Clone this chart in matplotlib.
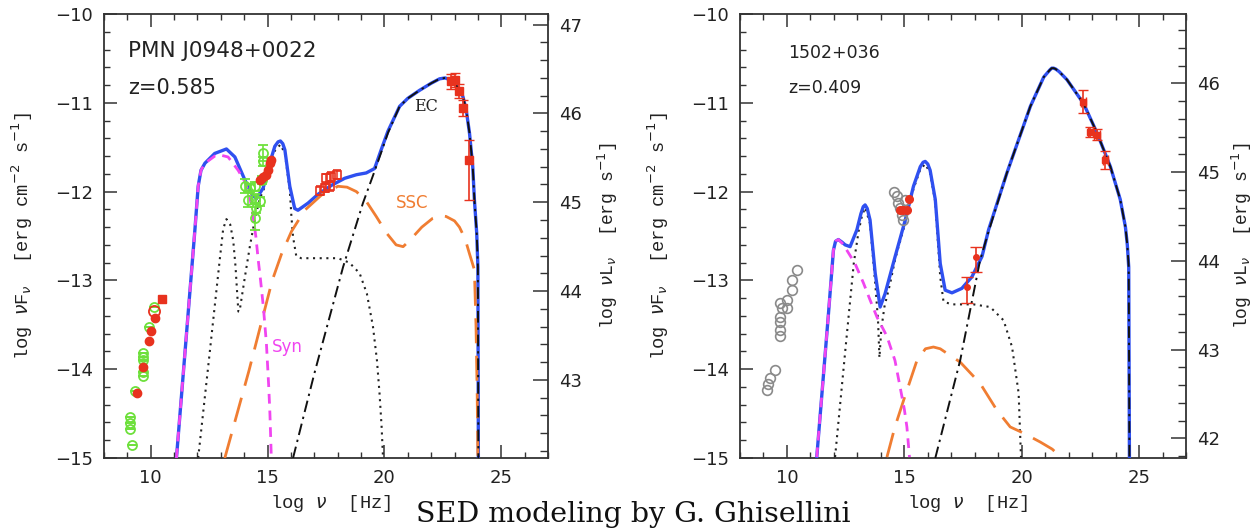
import matplotlib
matplotlib.use("Agg")
import matplotlib.pyplot as plt
from matplotlib.ticker import MultipleLocator

# ------------------------------------------------------------------
# PMN J0948+0022  (z = 0.585)
# ------------------------------------------------------------------
pmn_total_x = [11.10, 11.89, 12.03, 12.15, 12.32, 12.74, 13.24, 13.60, 14.03, 14.31,
               14.52, 14.81, 15.09, 15.31, 15.45, 15.55, 15.65, 15.74, 15.95, 16.16,
               16.30, 16.73, 17.16, 17.73, 18.30, 18.80, 19.22, 19.58, 19.86, 20.15,
               20.65, 21.00, 21.50, 22.00, 22.36, 22.60, 22.79, 23.07, 23.36, 23.50,
               23.64, 23.78, 23.85, 23.95, 24.00, 24.02]
pmn_total_y = [-15.00, -12.43, -11.94, -11.76, -11.68, -11.57, -11.52, -11.61, -11.87, -12.02,
               -12.08, -11.96, -11.68, -11.49, -11.44, -11.43, -11.46, -11.53, -11.94, -12.19,
               -12.21, -12.13, -12.03, -11.93, -11.85, -11.81, -11.79, -11.74, -11.53, -11.32,
               -11.04, -10.95, -10.86, -10.78, -10.73, -10.72, -10.74, -10.80, -10.93, -11.08,
               -11.34, -11.72, -12.09, -12.47, -12.85, -15.00]

pmn_syn_x = [11.10, 11.89, 12.03, 12.15, 12.32, 12.74, 13.00, 13.31, 13.74, 14.03,
             14.24, 14.38, 14.50, 14.60, 14.70, 14.82, 14.95, 15.05, 15.10, 15.16]
pmn_syn_y = [-15.00, -12.43, -11.94, -11.76, -11.68, -11.60, -11.59, -11.61, -11.76, -11.89,
             -12.06, -12.28, -12.51, -12.77, -13.00, -13.30, -13.71, -14.20, -14.50, -15.00]

pmn_ssc_x = [13.17, 14.20, 15.20, 15.60, 16.02, 16.59, 17.30, 18.01, 18.40, 18.80,
             19.20, 19.65, 20.10, 20.50, 20.80, 21.08, 21.60, 22.07, 22.40, 22.64,
             23.00, 23.21, 23.45, 23.64, 23.85, 23.92, 23.97, 24.00]
pmn_ssc_y = [-15.00, -14.02, -13.00, -12.70, -12.45, -12.21, -12.04, -11.94, -11.95, -12.00,
             -12.10, -12.28, -12.47, -12.60, -12.62, -12.55, -12.40, -12.30, -12.27, -12.28,
             -12.33, -12.40, -12.53, -12.70, -12.88, -13.52, -14.30, -15.00]

pmn_ec_x = [16.09, 17.00, 18.23, 19.08, 19.51, 19.86, 20.15, 20.65, 21.00, 21.50,
            22.00, 22.36, 22.60, 22.79, 23.07, 23.36, 23.50, 23.64, 23.78, 23.85,
            23.95, 24.00, 24.02]
pmn_ec_y = [-15.00, -14.05, -12.85, -12.13, -11.82, -11.56, -11.34, -11.04, -10.95, -10.86,
            -10.78, -10.73, -10.72, -10.74, -10.80, -10.93, -11.08, -11.34, -11.72, -12.09,
            -12.47, -12.85, -15.00]

pmn_thermal_x = [12.03, 12.50, 12.96, 13.10, 13.24, 13.40, 13.53, 13.63, 13.70, 13.75,
                 13.80, 13.90, 14.03, 14.24, 14.45, 14.67, 14.81, 15.09, 15.31, 15.55,
                 15.74, 15.95, 16.02, 16.09, 16.23, 16.44, 17.20, 18.01, 18.50, 18.94,
                 19.25, 19.51, 19.68, 19.79, 19.88, 19.94]
pmn_thermal_y = [-15.00, -13.87, -12.75, -12.42, -12.31, -12.37, -12.55, -12.85, -13.15, -13.35,
                 -13.35, -13.18, -12.96, -12.62, -12.32, -12.07, -12.00, -11.72, -11.54, -11.47,
                 -11.57, -11.98, -12.28, -12.51, -12.73, -12.75, -12.75, -12.75, -12.80, -12.92,
                 -13.15, -13.52, -13.90, -14.27, -14.65, -15.00]

# radio / IR / optical archival (open green) and simultaneous (filled red)
pmn_green_x = [9.18, 9.11, 9.11, 9.13, 9.32, 9.68, 9.68, 9.68, 9.68, 9.68, 9.94, 10.14,
               14.81, 14.81, 14.74, 14.03, 14.24, 14.45, 14.17, 14.45, 14.67, 14.52, 14.45]
pmn_green_y = [-14.85, -14.67, -14.61, -14.54, -14.25, -14.08, -14.03, -13.90, -13.86, -13.82,
               -13.52, -13.30,
               -11.57, -11.66, -11.87, -11.94, -11.96, -11.94, -12.09, -12.08, -12.11, -12.19, -12.30]
pmn_green_err = [0.0, 0.0, 0.0, 0.0, 0.0, 0.0, 0.0, 0.0, 0.0, 0.0, 0.0, 0.0,
                 0.09, 0.05, 0.05, 0.08, 0.05, 0.05, 0.08, 0.05, 0.05, 0.05, 0.13]

pmn_red_x = [9.40, 9.68, 9.92, 10.01, 10.17, 14.67, 14.81, 14.95, 15.02, 15.09, 15.16]
pmn_red_y = [-14.27, -13.98, -13.68, -13.57, -13.42, -11.87, -11.83, -11.81, -11.76, -11.68, -11.64]

pmn_radio_sq_x = [10.49]
pmn_radio_sq_y = [-13.21]
pmn_radio_ring_x = [10.14]
pmn_radio_ring_y = [-13.34]

pmn_xray_x = [17.23, 17.44, 17.51, 17.66, 17.73, 17.98]
pmn_xray_y = [-11.99, -11.96, -11.85, -11.94, -11.83, -11.81]
pmn_xray_err = [0.05, 0.05, 0.05, 0.05, 0.05, 0.05]

pmn_gamma_x = [22.86, 23.00, 23.21, 23.38, 23.64]
pmn_gamma_y = [-10.76, -10.74, -10.87, -11.06, -11.64]
pmn_gamma_lo = [0.08, 0.08, 0.08, 0.09, 0.45]
pmn_gamma_hi = [0.08, 0.07, 0.08, 0.09, 0.22]

# ------------------------------------------------------------------
# 1502+036  (z = 0.409)
# ------------------------------------------------------------------
q_total_x = [11.27, 11.77, 11.98, 12.07, 12.19, 12.35, 12.48, 12.69, 12.98, 13.15,
             13.25, 13.33, 13.42, 13.54, 13.76, 13.97, 14.18, 14.61, 15.04, 15.39,
             15.68, 15.80, 15.89, 16.00, 16.10, 16.32, 16.53, 16.74, 17.03, 17.45,
             17.88, 18.31, 18.59, 19.37, 20.37, 20.94, 21.20, 21.28, 21.36, 21.45,
             21.60, 21.93, 22.64, 23.21, 23.78, 24.20, 24.42, 24.50, 24.56, 24.59]
q_total_y = [-14.99, -13.37, -12.66, -12.56, -12.54, -12.57, -12.60, -12.62, -12.43, -12.25,
             -12.17, -12.15, -12.19, -12.32, -12.92, -13.30, -13.15, -12.73, -12.32, -11.94,
             -11.72, -11.67, -11.66, -11.69, -11.76, -12.09, -12.81, -13.11, -13.14, -13.09,
             -12.96, -12.73, -12.43, -11.79, -11.04, -10.71, -10.63, -10.61, -10.61, -10.62,
             -10.65, -10.74, -11.01, -11.34, -11.72, -12.09, -12.40, -12.60, -12.85, -15.00]

q_syn_x = [11.27, 11.77, 11.98, 12.07, 12.19, 12.35, 12.55, 12.90, 13.26, 13.54,
           13.83, 14.26, 14.60, 14.82, 15.00, 15.11, 15.22]
q_syn_y = [-14.99, -13.37, -12.66, -12.56, -12.54, -12.58, -12.66, -12.81, -13.03, -13.22,
           -13.41, -13.63, -13.90, -14.20, -14.45, -14.65, -14.99]

q_ssc_x = [14.26, 14.60, 14.97, 15.54, 15.90, 16.24, 16.53, 16.81, 17.38, 18.23,
           18.94, 19.51, 20.08, 20.79, 21.30, 21.71]
q_ssc_y = [-14.99, -14.65, -14.35, -13.90, -13.77, -13.75, -13.77, -13.82, -13.92, -14.16,
           -14.46, -14.65, -14.72, -14.82, -14.90, -15.00]

q_ec_x = [16.32, 17.38, 18.23, 18.59, 19.37, 20.37, 20.94, 21.20, 21.28, 21.36,
          21.45, 21.60, 21.93, 22.64, 23.21, 23.78, 24.20, 24.42, 24.50, 24.56, 24.59]
q_ec_y = [-15.00, -13.90, -12.77, -12.45, -11.79, -11.04, -10.71, -10.63, -10.61, -10.61,
          -10.62, -10.65, -10.74, -11.01, -11.34, -11.72, -12.09, -12.40, -12.60, -12.85, -15.00]

q_thermal_x = [12.05, 12.50, 12.85, 13.05, 13.19, 13.33, 13.54, 13.76, 13.88, 13.94,
               14.02, 14.15, 14.40, 14.61, 15.04, 15.39, 15.68, 15.89, 16.10, 16.32,
               16.53, 16.67, 17.03, 17.95, 18.66, 19.23, 19.59, 19.87, 19.97]
q_thermal_y = [-14.99, -13.75, -12.80, -12.45, -12.28, -12.18, -12.36, -13.03, -13.45, -13.87,
               -13.55, -13.30, -13.03, -12.76, -12.35, -11.97, -11.75, -11.69, -11.79, -12.12,
               -12.96, -13.24, -13.27, -13.27, -13.30, -13.45, -13.75, -14.27, -14.99]

q_gray_x = [9.14, 9.21, 9.28, 9.49, 9.71, 9.71, 9.71, 9.71, 9.78, 9.71, 9.99, 9.99, 10.20, 10.22, 10.42,
            14.54, 14.68, 14.75, 14.82, 14.90, 14.96, 15.04]
q_gray_y = [-14.23, -14.17, -14.10, -14.01, -13.63, -13.56, -13.47, -13.41, -13.31, -13.26, -13.31,
            -13.22, -13.11, -13.00, -12.88,
            -12.00, -12.05, -12.13, -12.19, -12.26, -12.32, -12.09]

q_red_x = [15.18, 14.82, 14.96, 15.11]
q_red_y = [-12.08, -12.21, -12.21, -12.21]

q_xray_x = [17.67, 18.05]
q_xray_y = [-13.07, -12.74]
q_xray_lo = [0.19, 0.17]
q_xray_hi = [0.11, 0.12]

q_gamma_x = [22.62, 22.93, 23.21, 23.57]
q_gamma_y = [-10.99, -11.33, -11.36, -11.64]
q_gamma_err = [0.13, 0.06, 0.06, 0.10]
q_gamma_xerr = [0.10, 0.12, 0.12, 0.10]

# axis ranges and flux -> luminosity offsets
x_range = (8, 27)
flux_range = (-15, -10)
pmn_lum_offset = 57.12
q_lum_offset = 56.78

# colours
C_TOTAL = "#2f50f0"
C_SYN = "#f045f0"
C_SSC = "#f07d32"
C_GREEN = "#6ee03c"
C_RED = "#e8321e"
C_GRAY = "#8a8a8a"
C_AXIS = "#333333"

W, H = 1254, 530
fig = plt.figure(figsize=(W / 100, H / 100), dpi=100)

label_font = ["Liberation Mono", "DejaVu Sans Mono"]


def style_axes(ax, offset):
    ax.set_xlim(*x_range)
    ax.set_ylim(*flux_range)
    for sp in ax.spines.values():
        sp.set_color(C_AXIS)
        sp.set_linewidth(1.3)
    ax.xaxis.set_major_locator(MultipleLocator(5))
    ax.xaxis.set_minor_locator(MultipleLocator(1))
    ax.yaxis.set_major_locator(MultipleLocator(1))
    ax.yaxis.set_minor_locator(MultipleLocator(0.2))
    ax.tick_params(which="both", direction="in", colors=C_AXIS, top=True, right=False,
                   labelsize=13, pad=8, labelcolor="#222222")
    ax.tick_params(which="major", length=9.5, width=1.1)
    ax.tick_params(which="minor", length=4.5, width=1.0)

    tw = ax.twinx()
    tw.set_ylim(flux_range[0] + offset, flux_range[1] + offset)
    tw.yaxis.set_major_locator(MultipleLocator(1))
    tw.yaxis.set_minor_locator(MultipleLocator(0.2))
    tw.tick_params(which="both", direction="in", colors=C_AXIS, labelsize=13, pad=8,
                   labelcolor="#222222")
    tw.tick_params(which="major", length=10.5, width=1.1)
    tw.tick_params(which="minor", length=5.5, width=1.0)
    for sp in tw.spines.values():
        sp.set_visible(False)

    ax.set_xlabel(r"log $\nu$  [Hz]", family=label_font, fontsize=13.5, color="#222222")
    ax.xaxis.set_label_coords(0.51, -0.078)
    ax.set_ylabel(r"log $\nu$F$_\nu$  [erg cm$^{-2}$ s$^{-1}$]", family=label_font,
                  fontsize=13.5, color="#222222")
    tw.set_ylabel(r"log $\nu$L$_\nu$  [erg s$^{-1}$]", family=label_font,
                  fontsize=13, color="#222222")
    return tw


def draw_model(ax, thermal, total, syn, ssc, ec):
    ax.plot(*thermal, color="#222222", lw=1.5, ls=(0, (1, 2.2)), zorder=2)
    ax.plot(*total, color=C_TOTAL, lw=2.4, zorder=3, solid_capstyle="round",
            solid_joinstyle="round")
    ax.plot(*ssc, color=C_SSC, lw=2.0, ls=(0, (9, 4.5)), zorder=4)
    ax.plot(*syn, color=C_SYN, lw=2.0, ls=(0, (3.5, 2.5)), zorder=4)
    ax.plot(*ec, color="#111111", lw=1.4, ls=(0, (6, 2.5, 1.2, 2.5)), zorder=4)


# ---------------- left panel ----------------
axL = fig.add_axes([104 / W, 1 - 458 / H, 444 / W, 444 / H])
twL = style_axes(axL, pmn_lum_offset)
axL.yaxis.set_label_coords(-0.155, 0.5)
twL.yaxis.set_label_coords(1.108, 0.5)

draw_model(axL, (pmn_thermal_x, pmn_thermal_y), (pmn_total_x, pmn_total_y),
           (pmn_syn_x, pmn_syn_y), (pmn_ssc_x, pmn_ssc_y), (pmn_ec_x, pmn_ec_y))

axL.errorbar(pmn_green_x, pmn_green_y, yerr=pmn_green_err, fmt="o", ms=6.5, mfc="none",
             mec=C_GREEN, mew=1.3, ecolor=C_GREEN, elinewidth=1.2, capsize=3.5, zorder=5)
axL.plot(pmn_red_x, pmn_red_y, "o", ms=6, color=C_RED, zorder=6)
axL.plot(pmn_radio_sq_x, pmn_radio_sq_y, "s", ms=5.5, color=C_RED, zorder=6)
axL.plot(pmn_radio_ring_x, pmn_radio_ring_y, "o", ms=8, mfc="none", mec=C_RED, mew=1.3, zorder=6)
axL.errorbar(pmn_xray_x, pmn_xray_y, yerr=pmn_xray_err, fmt="s", ms=6, mfc="none", mec=C_RED,
             mew=1.2, ecolor=C_RED, elinewidth=1.1, capsize=3, zorder=6)
axL.errorbar(pmn_gamma_x, pmn_gamma_y, yerr=[pmn_gamma_lo, pmn_gamma_hi], fmt="s", ms=5.5,
             color=C_RED, ecolor=C_RED, elinewidth=1.2, capsize=3.5, zorder=6)

axL.text(9.03, -10.42, "PMN J0948+0022", fontsize=15.5, va="center", ha="left", color="#222222")
axL.text(9.03, -10.83, "z=0.585", fontsize=15, va="center", ha="left", color="#222222")
axL.text(21.79, -11.04, "EC", fontsize=11.5, family="DejaVu Serif", va="center", ha="center",
         color="#222222", zorder=7)
axL.text(21.2, -12.13, "SSC", fontsize=12, va="center", ha="center", color=C_SSC)
axL.text(15.86, -13.75, "Syn", fontsize=12, va="center", ha="center", color=C_SYN)

# ---------------- right panel ----------------
axR = fig.add_axes([740 / W, 1 - 458 / H, 446 / W, 444 / H])
twR = style_axes(axR, q_lum_offset)
axR.yaxis.set_label_coords(-0.155, 0.5)
twR.yaxis.set_label_coords(1.098, 0.5)

draw_model(axR, (q_thermal_x, q_thermal_y), (q_total_x, q_total_y),
           (q_syn_x, q_syn_y), (q_ssc_x, q_ssc_y), (q_ec_x, q_ec_y))

axR.plot(q_gray_x, q_gray_y, "o", ms=7, mfc="none", mec=C_GRAY, mew=1.2, zorder=5)
axR.plot(q_red_x, q_red_y, "o", ms=5.5, color=C_RED, zorder=6)
axR.errorbar(q_xray_x, q_xray_y, yerr=[q_xray_lo, q_xray_hi], fmt="o", ms=4, color=C_RED,
             ecolor=C_RED, elinewidth=1.2, capsize=4, zorder=6)
axR.errorbar(q_gamma_x, q_gamma_y, yerr=q_gamma_err, xerr=q_gamma_xerr, fmt="s", ms=4,
             color=C_RED, ecolor=C_RED, elinewidth=1.2, capsize=3.5, zorder=6)

axR.text(10.05, -10.44, "1502+036", fontsize=12.5, va="center", ha="left", color="#222222")
axR.text(10.05, -10.83, "z=0.409", fontsize=12.5, va="center", ha="left", color="#222222")

fig.text(0.505, 0.016, "SED modeling by G. Ghisellini", family="DejaVu Serif",
         fontsize=20.5, ha="center", va="baseline", color="#111111")

fig.savefig("out.png", dpi=100)
